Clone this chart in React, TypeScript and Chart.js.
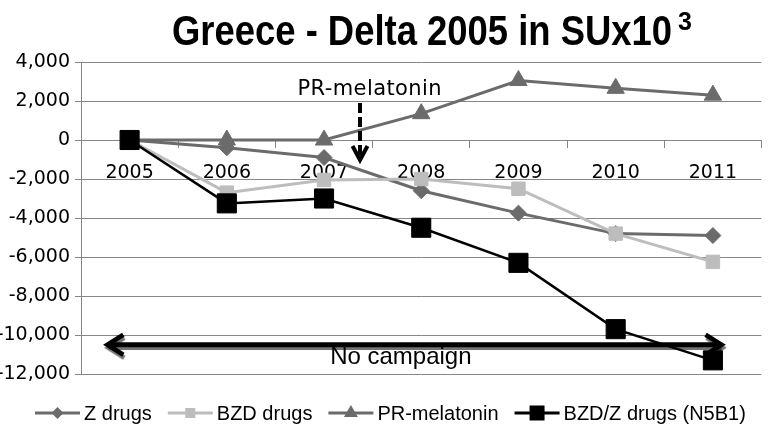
import React, { useEffect, useRef } from "react";
import { Chart, registerables } from "chart.js";

Chart.register(...registerables);

// ---------- data ----------
const categories = ["2005", "2006", "2007", "2008", "2009", "2010", "2011"];
const zDrugs = [0, -400, -900, -2600, -3750, -4800, -4900];
const bzdDrugs = [0, -2700, -2050, -2000, -2500, -4800, -6250];
const prMelatonin = [0, 0, 0, 1350, 3050, 2650, 2300];
const n5b1 = [0, -3250, -3000, -4500, -6300, -9700, -11300];
const seriesNames = ["Z drugs", "BZD drugs", "PR-melatonin", "BZD/Z drugs (N5B1)"];
const yMin = -12000;
const yMax = 4000;
const yStep = 2000;

const titleText = "Greece - Delta 2005 in SUx10";
const titleSup = "3";
const prNote = "PR-melatonin";
const campaignNote = "No campaign";

// annotation anchors in data units: [category index, value]
const prNoteAt = [2.46, 2600];
const prArrowFrom = [2.37, 1900];
const prArrowTo = [2.37, -1130];
const campaignArrowFrom = [-0.25, -10500];
const campaignArrowTo = [6.11, -10500];
const campaignNoteAt = [2.79, -11150];

// ---------- styles ----------
const Z_COLOR = "#6b6b6b";
const BZD_COLOR = "#bdbdbd";
const PR_COLOR = "#6b6b6b";
const N5_COLOR = "#000000";
const GRID = "#868686";
const TICK_FONT = "'DejaVu Sans', sans-serif";
const TEXT_FONT = "'Liberation Sans', Arial, sans-serif";

function chevron(ctx: CanvasRenderingContext2D, tx: number, ty: number, dx: number, dy: number, back: number, half: number) {
  const px = -dy, py = dx;
  ctx.beginPath();
  ctx.moveTo(tx - dx * back + px * half, ty - dy * back + py * half);
  ctx.lineTo(tx, ty);
  ctx.lineTo(tx - dx * back - px * half, ty - dy * back - py * half);
  ctx.stroke();
}

function marker(ctx: CanvasRenderingContext2D, style: string, cx: number, cy: number, s: number, color: string) {
  ctx.fillStyle = color;
  ctx.beginPath();
  if (style === "diamond") {
    ctx.moveTo(cx, cy - s);
    ctx.lineTo(cx + s, cy);
    ctx.lineTo(cx, cy + s);
    ctx.lineTo(cx - s, cy);
  } else if (style === "square") {
    ctx.rect(cx - s / 2, cy - s / 2, s, s);
  } else {
    const h = (s * Math.sqrt(3)) / 2;
    ctx.moveTo(cx, cy - (h * 2) / 3);
    ctx.lineTo(cx + s / 2, cy + h / 3);
    ctx.lineTo(cx - s / 2, cy + h / 3);
  }
  ctx.closePath();
  ctx.fill();
}

const decorPlugin = {
  id: "decor",
  afterDraw(chart: any) {
    const ctx: CanvasRenderingContext2D = chart.ctx;
    const xs = chart.scales.x;
    const ys = chart.scales.y;
    const px = (p: number[]) => [xs.getPixelForValue(p[0]), ys.getPixelForValue(p[1])];
    ctx.save();

    // title
    ctx.fillStyle = "#000";
    ctx.textAlign = "left";
    ctx.textBaseline = "alphabetic";
    ctx.font = "bold 42px 'Liberation Sans Narrow', 'Liberation Sans', Arial, sans-serif";
    const tw = ctx.measureText(titleText).width;
    const target = 500;
    ctx.save();
    ctx.translate(172, 45);
    ctx.scale(target / tw, 1);
    ctx.fillText(titleText, 0, 0);
    ctx.restore();
    ctx.font = "bold 25px 'Liberation Sans Narrow', 'Liberation Sans', Arial, sans-serif";
    ctx.fillText(titleSup, 172 + target + 6, 30);

    // PR-melatonin note
    const [nx, ny] = px(prNoteAt);
    ctx.font = `21px ${TICK_FONT}`;
    ctx.textAlign = "center";
    ctx.textBaseline = "middle";
    (ctx as any).letterSpacing = "0.4px";
    ctx.fillText(prNote, nx + 1, ny);
    (ctx as any).letterSpacing = "0px";

    // dashed arrow
    const [ax1, ay1] = px(prArrowFrom);
    const [ax2, ay2] = px(prArrowTo);
    ctx.strokeStyle = "#000";
    ctx.lineWidth = 4;
    ctx.setLineDash([10, 4]);
    ctx.beginPath();
    ctx.moveTo(ax1, ay1);
    ctx.lineTo(ax2, ay2 - 4);
    ctx.stroke();
    ctx.setLineDash([]);
    ctx.lineWidth = 4;
    ctx.lineJoin = "miter";
    chevron(ctx, ax2, ay2 - 2, 0, 1, 14, 7.5);

    // campaign double arrow
    const [cx1, cy1] = px(campaignArrowFrom);
    const [cx2, cy2] = px(campaignArrowTo);
    ctx.save();
    ctx.shadowColor = "rgba(0,0,0,0.55)";
    ctx.shadowOffsetX = 1;
    ctx.shadowOffsetY = 3;
    ctx.shadowBlur = 1;
    ctx.strokeStyle = "#000";
    ctx.lineWidth = 5;
    ctx.beginPath();
    ctx.moveTo(cx1 + 3, cy1);
    ctx.lineTo(cx2 - 3, cy2);
    ctx.stroke();
    ctx.lineWidth = 4.5;
    chevron(ctx, cx1 + 2, cy1, -1, 0, 16, 10);
    chevron(ctx, cx2 - 2, cy2, 1, 0, 16, 10);
    ctx.restore();

    // No campaign text
    const [tx, ty] = px(campaignNoteAt);
    ctx.fillStyle = "#000";
    ctx.font = `24px ${TEXT_FONT}`;
    ctx.textAlign = "center";
    ctx.textBaseline = "middle";
    ctx.fillText(campaignNote, tx, ty);

    // legend
    const items = [
      { name: seriesNames[0], color: Z_COLOR, style: "diamond", s: 6, lw: 3 },
      { name: seriesNames[1], color: BZD_COLOR, style: "square", s: 10, lw: 3 },
      { name: seriesNames[2], color: PR_COLOR, style: "triangle", s: 14, lw: 3 },
      { name: seriesNames[3], color: N5_COLOR, style: "square", s: 15, lw: 3 },
    ];
    ctx.font = `20px ${TEXT_FONT}`;
    ctx.textAlign = "left";
    ctx.textBaseline = "alphabetic";
    let lx = 35;
    const ly = 413;
    for (const it of items) {
      ctx.strokeStyle = it.color;
      ctx.lineWidth = it.lw;
      ctx.beginPath();
      ctx.moveTo(lx, ly);
      ctx.lineTo(lx + 45, ly);
      ctx.stroke();
      marker(ctx, it.style, lx + 22.5, ly, it.s, it.color);
      ctx.fillStyle = "#000";
      ctx.fillText(it.name, lx + 49, ly + 7);
      lx += 45 + 4 + ctx.measureText(it.name).width + 16;
    }
    ctx.restore();
  },
};

export default function App() {
  const ref = useRef<HTMLCanvasElement | null>(null);
  useEffect(() => {
    if (!ref.current) return;
    const mk = (label: string, data: number[], color: string, style: string, r: number, lw: number, order: number) => ({
      label,
      data,
      borderColor: color,
      backgroundColor: color,
      pointBackgroundColor: color,
      pointBorderColor: color,
      pointBorderWidth: 1,
      pointStyle: style,
      pointRadius: r,
      borderWidth: lw,
      tension: 0,
      clip: false as any,
      order,
    });
    const chart = new Chart(ref.current, {
      type: "line",
      data: {
        labels: categories,
        datasets: [
          mk(seriesNames[0], zDrugs, Z_COLOR, "rectRot", 8, 3, 2),
          mk(seriesNames[1], bzdDrugs, BZD_COLOR, "rect", 9.5, 3, 1),
          mk(seriesNames[2], prMelatonin, PR_COLOR, "triangle", 10, 3, 3),
          mk(seriesNames[3], n5b1, N5_COLOR, "rect", 13.5, 2.5, 0),
        ],
      },
      options: {
        responsive: false,
        animation: false,
        devicePixelRatio: 1,
        events: [],
        layout: { padding: { top: 62, bottom: 51, left: 0, right: 12 } },
        plugins: {
          legend: { display: false },
          title: { display: false },
          tooltip: { enabled: false },
        },
        scales: {
          x: {
            type: "category",
            position: { y: 0 } as any,
            offset: true,
            grid: {
              display: true,
              drawOnChartArea: false,
              drawTicks: true,
              tickLength: 7,
              color: GRID,
              offset: true,
            },
            border: { display: true, color: GRID, width: 1 },
            ticks: {
              color: "#000",
              font: { family: "DejaVu Sans", size: 19 },
              padding: 15,
              maxRotation: 0,
              autoSkip: false,
            },
          },
          y: {
            min: yMin,
            max: yMax,
            afterFit(scale: any) {
              scale.width = 81;
            },
            grid: { color: GRID, tickLength: 6, drawTicks: true },
            border: { display: true, color: GRID, width: 1 },
            ticks: {
              stepSize: yStep,
              color: "#000",
              font: { family: "DejaVu Sans", size: 19 },
              padding: 5,
              callback: (v: any) => Number(v).toLocaleString("en-US"),
            },
          },
        },
      },
      plugins: [decorPlugin],
    });
    return () => chart.destroy();
  }, []);
  return (
    <div style={{ position: "absolute", left: 0, top: 0, width: 776, height: 425, background: "#fff" }}>
      <canvas ref={ref} width={776} height={425} />
    </div>
  );
}
